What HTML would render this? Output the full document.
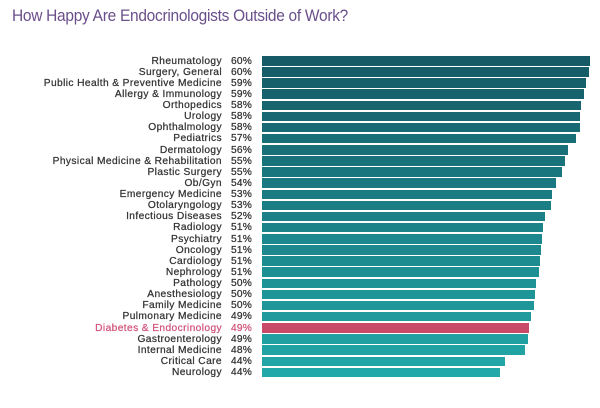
<!DOCTYPE html><html><head><style>
body{margin:0;width:600px;height:408px;background:#fff;overflow:hidden;font-family:"Liberation Sans",sans-serif;position:relative}
h1{position:absolute;left:12px;top:6px;margin:0;font-size:17px;font-weight:normal;color:#6a4f8a;letter-spacing:-0.3px;transform:scaleX(0.91);transform-origin:left}
.r{position:absolute;left:0;height:11px;font-size:10.2px;line-height:11px;color:#333;letter-spacing:0.4px;-webkit-text-stroke:0.25px currentColor}
.l{position:absolute;right:378px;width:300px;text-align:right;white-space:nowrap}
.p{position:absolute;left:231px;letter-spacing:0.2px}
.b{position:absolute;left:262px;top:0.5px;height:9.5px}
</style></head><body>
<h1>How Happy Are Endocrinologists Outside of Work?</h1>
<div id="c"></div>
<script>
var d=[["Rheumatology",60,590],["Surgery, General",60,589],["Public Health &amp; Preventive Medicine",59,586],["Allergy &amp; Immunology",59,584],["Orthopedics",58,581],["Urology",58,580],["Ophthalmology",58,580],["Pediatrics",57,576],["Dermatology",56,568],["Physical Medicine &amp; Rehabilitation",55,565],["Plastic Surgery",55,562],["Ob/Gyn",54,556],["Emergency Medicine",53,552],["Otolaryngology",53,551],["Infectious Diseases",52,545],["Radiology",51,543],["Psychiatry",51,542],["Oncology",51,541],["Cardiology",51,540],["Nephrology",51,539],["Pathology",50,536],["Anesthesiology",50,535],["Family Medicine",50,534],["Pulmonary Medicine",49,531],["Diabetes &amp; Endocrinology",49,529],["Gastroenterology",49,528],["Internal Medicine",48,525],["Critical Care",44,505],["Neurology",44,500]];
var h="";
for(var i=0;i<d.length;i++){var t=i/28;var y=55.5+i*11.13;
var r=Math.round(0x15+(0x22-0x15)*t),g=Math.round(0x5a+(0xa8-0x5a)*t),b=Math.round(0x66+(0xa8-0x66)*t);
var col="rgb("+r+","+g+","+b+")",tc="#333";
if(i==24){col="#c94a68";tc="#d0557a";}
h+='<div class="r" style="top:'+y+'px;width:600px;color:'+tc+'"><span class="l">'+d[i][0]+'</span><span class="p">'+d[i][1]+'%</span><div class="b" style="width:'+(d[i][2]-262)+'px;background:'+col+'"></div></div>';}
document.getElementById("c").innerHTML=h;
</script>
</body></html>
